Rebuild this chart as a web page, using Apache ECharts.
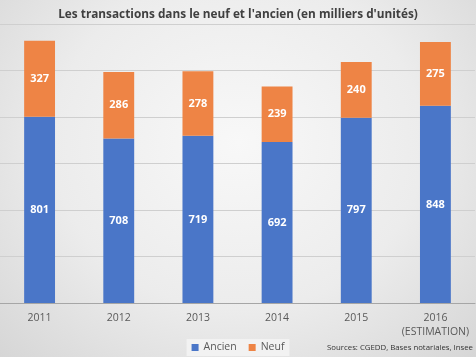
<!DOCTYPE html>
<html><head><meta charset="utf-8">
<script src="https://cdn.jsdelivr.net/npm/echarts@6/dist/echarts.min.js"></script>
<style>
html,body{margin:0;padding:0;}
body{width:476px;height:357px;background:radial-gradient(ellipse at 50% 40%, #f8f8f8 0%, #ececec 55%, #d6d6d6 100%);}
#c{width:476px;height:357px;}
</style></head><body>
<div id="c"></div>
<script>
const categories = ['2011','2012','2013','2014','2015','2016\n(ESTIMATION)'];
const ancien = [801, 708, 719, 692, 797, 848];
const neuf = [327, 286, 278, 239, 240, 275];
const yTicks = {min:0, max:1200, interval:200};

const chart = echarts.init(document.getElementById('c'), null, {renderer:'canvas'});
const font = '"Open Sans", "Liberation Sans", sans-serif';
const lbl = {show:true, position:'inside', color:'#fff', fontWeight:'bold', fontSize:11, fontFamily:font};
chart.setOption({
  backgroundColor:'transparent',
  animation:false,
  title:{text:"Les transactions dans le neuf et l'ancien (en milliers d'unités)", left:'center', top:4,
    textStyle:{fontFamily:font, fontSize:11.8, fontWeight:'bold', color:'#404040'}},
  grid:{left:0, right:1, top:24, bottom:54},
  xAxis:{type:'category', data:categories,
    axisLine:{lineStyle:{color:'#a6a6a6'}}, axisTick:{show:false},
    axisLabel:{color:'#595959', fontFamily:font, fontSize:10.5, margin:8, lineHeight:14, interval:0}},
  yAxis:{type:'value', min:yTicks.min, max:yTicks.max, interval:yTicks.interval,
    axisLabel:{show:false}, axisLine:{show:false}, axisTick:{show:false},
    splitLine:{lineStyle:{color:'#cfcfcf'}}},
  legend:{data:['Ancien','Neuf'], bottom:1, left:'center', itemWidth:7, itemHeight:7, itemGap:12,
    icon:'rect', textStyle:{color:'#595959', fontFamily:font, fontSize:10.5},
    backgroundColor:'#f2f2f2', padding:[3,5]},
  graphic:[{type:'text', right:3, bottom:5, style:{text:'Sources: CGEDD, Bases notariales, Insee', fontFamily:font, fontSize:7.8, fill:'#333'}}],
  series:[
    {name:'Ancien', type:'bar', stack:'t', data:ancien, barWidth:'39%', itemStyle:{color:'#4a76c8'}, label:lbl},
    {name:'Neuf', type:'bar', stack:'t', data:neuf, barWidth:'39%', itemStyle:{color:'#ee8445'}, label:lbl}
  ]
});
</script>
</body></html>
